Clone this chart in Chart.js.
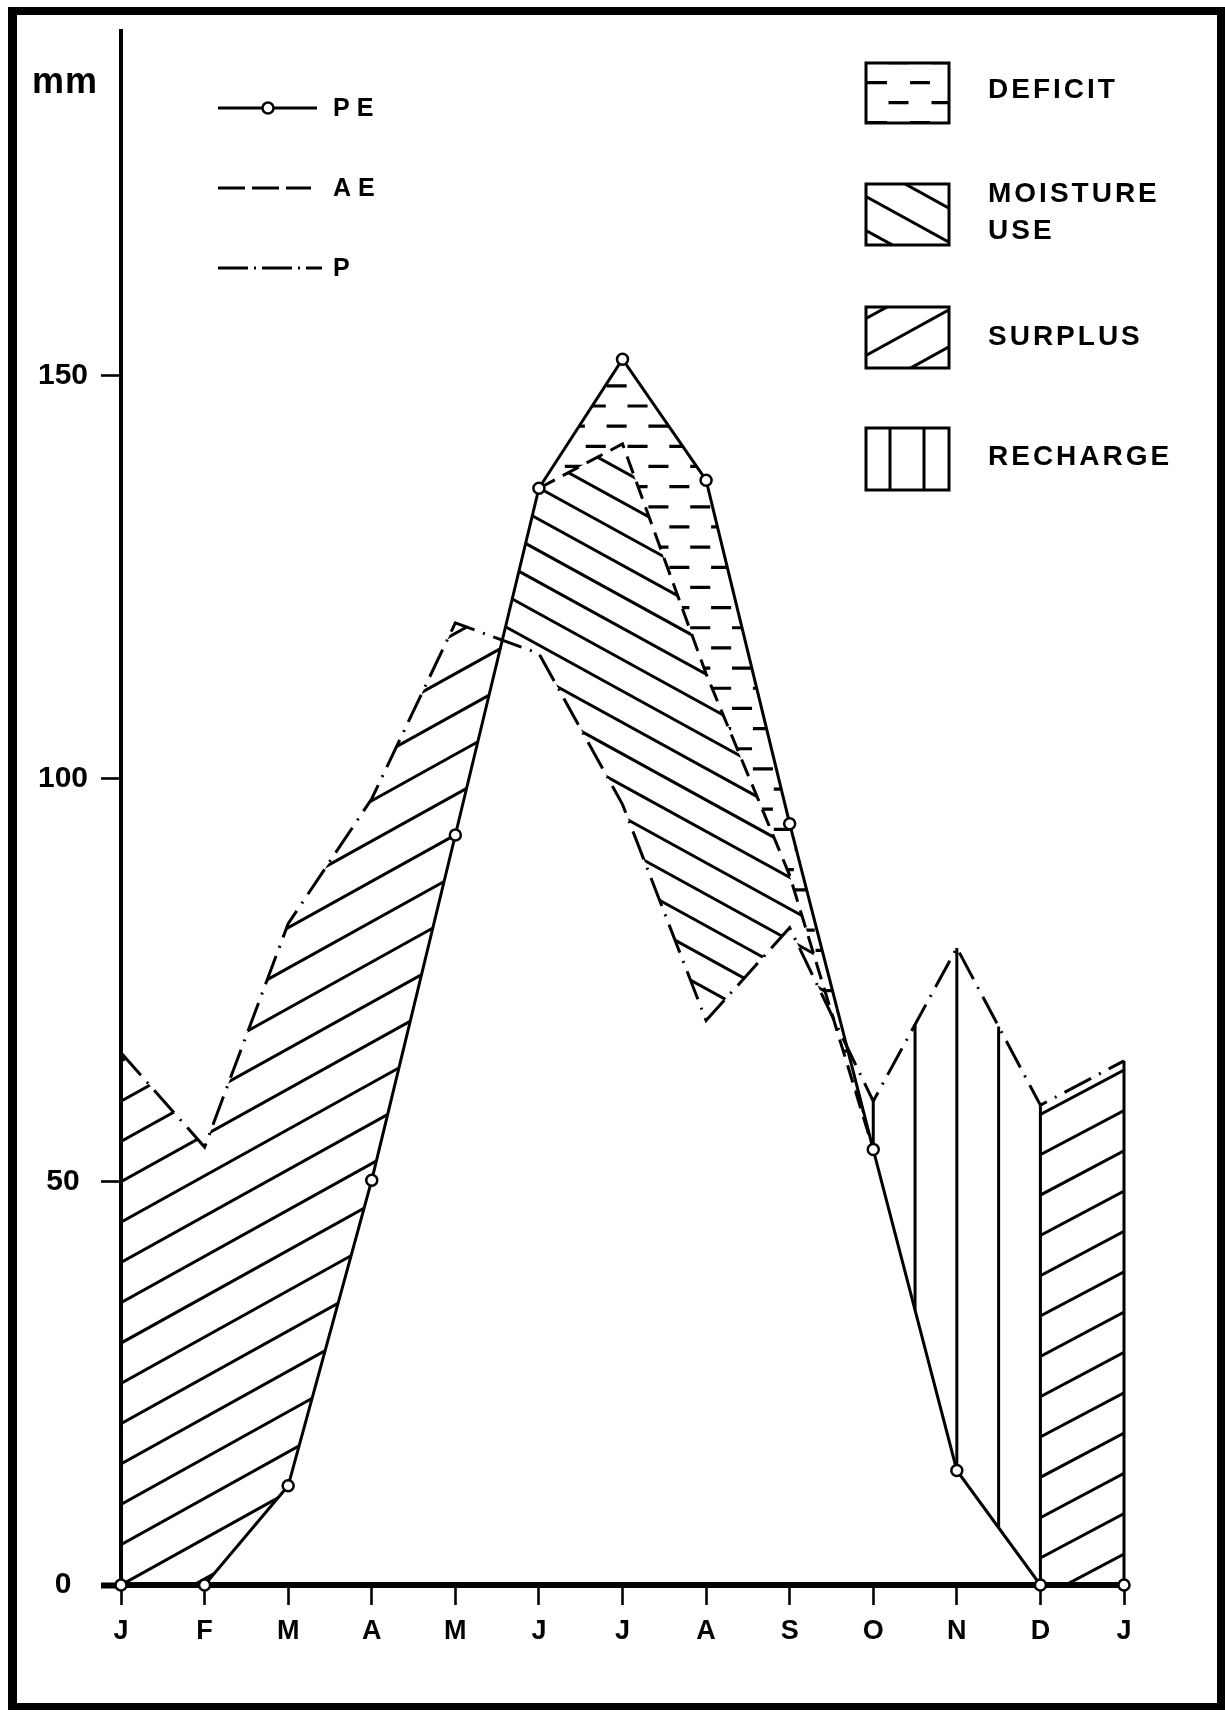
<!DOCTYPE html>
<html>
<head>
<meta charset="utf-8">
<title>Water balance</title>
<script src="https://cdn.jsdelivr.net/npm/chart.js@4.4.1/dist/chart.umd.min.js"></script>
<style>
  html, body { margin: 0; padding: 0; background: #fff; }
  canvas { display: block; }
</style>
</head>
<body>
<canvas id="wb" width="1225" height="1712"></canvas>
<script>
// Monthly water balance (mm), January to the following January
const months = ['J', 'F', 'M', 'A', 'M', 'J', 'J', 'A', 'S', 'O', 'N', 'D', 'J'];
const potentialEvap = [0, 0, 12.3, 50.2, 93, 136, 152, 137, 94.4, 54, 14.2, 0, 0];
const actualEvap = [null, null, null, null, null, 136, 141.5, 113, 88, 54, null, null, null];
const precipitation = [66, 54.3, 82, 97.5, 119.3, 115.5, 96.8, 70, 81.5, 60, 79, 59.5, 65];
const yTicks = [0, 50, 100, 150];
const zoneLabels = [['DEFICIT'], ['MOISTURE', 'USE'], ['SURPLUS'], ['RECHARGE']];

const FONT = '"Liberation Sans", Arial, sans-serif';
const LW = 3;

// AE equals PE outside the drying season
const aeFull = actualEvap.map((v, i) => (v === null ? potentialEvap[i] : v));

function valAt(arr, x) {
  const i = Math.max(0, Math.min(Math.floor(x), arr.length - 2));
  const t = x - i;
  return arr[i] * (1 - t) + arr[i + 1] * t;
}
// x where series a and b cross inside segment [i, i+1]
function crossing(a, b, i) {
  const d0 = a[i] - b[i], d1 = a[i + 1] - b[i + 1];
  return i + d0 / (d0 - d1);
}
// polygon between an upper and a lower series over [x0, x1]
function band(upper, lower, x0, x1) {
  const pts = [[x0, valAt(upper, x0)]];
  for (let i = Math.ceil(x0); i <= Math.floor(x1); i++) if (i > x0 && i < x1) pts.push([i, upper[i]]);
  pts.push([x1, valAt(upper, x1)]);
  pts.push([x1, valAt(lower, x1)]);
  for (let i = Math.floor(x1); i >= Math.ceil(x0); i--) if (i > x0 && i < x1) pts.push([i, lower[i]]);
  pts.push([x0, valAt(lower, x0)]);
  return pts;
}

function toPx(chart, pts) {
  const xs = chart.scales.x, ys = chart.scales.y;
  return pts.map(([x, y]) => [xs.getPixelForValue(x), ys.getPixelForValue(y)]);
}
function bbox(px) {
  const xsArr = px.map(p => p[0]), ysArr = px.map(p => p[1]);
  return { l: Math.min(...xsArr), r: Math.max(...xsArr), t: Math.min(...ysArr), b: Math.max(...ysArr) };
}
function clipTo(ctx, px) {
  ctx.beginPath();
  px.forEach(([x, y], k) => (k ? ctx.lineTo(x, y) : ctx.moveTo(x, y)));
  ctx.closePath();
  ctx.clip();
}
// parallel lines y = ay + k*gap + slope*(x - ax)
function diagonals(ctx, box, ax, ay, slope, gap) {
  const yl = slope * (box.l - ax), yr = slope * (box.r - ax);
  const kmin = Math.floor((box.t - ay - Math.max(yl, yr)) / gap) - 1;
  const kmax = Math.ceil((box.b - ay - Math.min(yl, yr)) / gap) + 1;
  ctx.beginPath();
  for (let k = kmin; k <= kmax; k++) {
    ctx.moveTo(box.l, ay + k * gap + yl);
    ctx.lineTo(box.r, ay + k * gap + yr);
  }
  ctx.stroke();
}
// staggered rows of short dashes
function dashRows(ctx, box, ax, ay, rowGap, dash, period) {
  const k0 = Math.floor((box.t - ay) / rowGap) - 1, k1 = Math.ceil((box.b - ay) / rowGap) + 1;
  ctx.beginPath();
  for (let k = k0; k <= k1; k++) {
    const y = ay + k * rowGap;
    const shift = (((k % 2) + 2) % 2) * period / 2;
    let x = ax + shift + Math.floor((box.l - ax - shift) / period - 1) * period;
    for (; x < box.r; x += period) { ctx.moveTo(x, y); ctx.lineTo(x + dash, y); }
  }
  ctx.stroke();
}

const waterBalance = {
  id: 'waterBalance',
  beforeDraw(chart) {
    const ctx = chart.ctx;
    ctx.save();
    ctx.fillStyle = '#fff';
    ctx.fillRect(0, 0, chart.width, chart.height);
    ctx.restore();
  },
  beforeDatasetsDraw(chart) {
    const ctx = chart.ctx;
    const xs = chart.scales.x, ys = chart.scales.y;
    const X = v => xs.getPixelForValue(v), Y = v => ys.getPixelForValue(v);
    const mm = v => Y(0) - Y(v);        // mm expressed as pixels
    const mo = v => X(v) - X(0);        // months expressed as pixels

    const springCross = crossing(precipitation, potentialEvap, 4);
    const autumnCross = crossing(aeFull, precipitation, 8);

    ctx.save();
    ctx.strokeStyle = '#000';
    ctx.lineCap = 'butt';

    // surplus, winter and spring
    let px = toPx(chart, band(precipitation, potentialEvap, 0, springCross));
    ctx.save(); clipTo(ctx, px); ctx.lineWidth = LW;
    diagonals(ctx, bbox(px), X(0), Y(0), -0.555, mm(5));
    ctx.restore();

    // surplus, December
    px = toPx(chart, band(precipitation, potentialEvap, 11, 12));
    ctx.save(); clipTo(ctx, px); ctx.lineWidth = LW;
    diagonals(ctx, bbox(px), X(11.3), Y(0), -0.53, mm(5));
    ctx.restore();

    // soil moisture utilisation
    px = toPx(chart, band(aeFull, precipitation, springCross, autumnCross));
    ctx.save(); clipTo(ctx, px); ctx.lineWidth = LW;
    diagonals(ctx, bbox(px), X(5.85), Y(100), 0.55, mm(3.9));
    ctx.restore();

    // deficit
    px = toPx(chart, band(potentialEvap, aeFull, 5, 9));
    ctx.save(); clipTo(ctx, px); ctx.lineWidth = 3.2;
    dashRows(ctx, bbox(px), X(5.81), Y(148.7), mm(2.5), mo(0.24), mo(0.5));
    ctx.restore();

    // recharge: vertical rules every half month
    ctx.lineWidth = LW;
    ctx.beginPath();
    for (let m = 9; m <= 11.001; m += 0.5) {
      ctx.moveTo(X(m), Y(valAt(precipitation, m)));
      ctx.lineTo(X(m), Y(valAt(potentialEvap, m)));
    }
    // closing edge of the December surplus
    ctx.moveTo(X(12), Y(precipitation[12]));
    ctx.lineTo(X(12), Y(potentialEvap[12]));
    ctx.stroke();
    ctx.restore();
  },
  afterDraw(chart) {
    const ctx = chart.ctx;
    ctx.save();
    ctx.fillStyle = '#000';
    ctx.strokeStyle = '#000';

    // unit
    ctx.font = 'bold 36px ' + FONT;
    ctx.textBaseline = 'middle';
    ctx.textAlign = 'left';
    ctx.letterSpacing = '1px';
    ctx.fillText('mm', 32, 83);

    // line legend
    const ds = chart.data.datasets;
    const rows = [108, 188, 268];
    ctx.lineWidth = LW;
    ctx.beginPath(); ctx.moveTo(218, rows[0]); ctx.lineTo(317, rows[0]); ctx.stroke();
    ctx.beginPath(); ctx.arc(268, rows[0], 5.5, 0, Math.PI * 2);
    ctx.fillStyle = '#fff'; ctx.fill(); ctx.lineWidth = 2.5; ctx.stroke();
    ctx.fillStyle = '#000';
    ctx.lineWidth = LW;
    ctx.setLineDash([27, 7]);
    ctx.beginPath(); ctx.moveTo(218, rows[1]); ctx.lineTo(311, rows[1]); ctx.stroke();
    ctx.setLineDash([30, 6, 2, 6]);
    ctx.beginPath(); ctx.moveTo(218, rows[2]); ctx.lineTo(322, rows[2]); ctx.stroke();
    ctx.setLineDash([]);
    ctx.font = 'bold 25px ' + FONT;
    ctx.letterSpacing = '7px';
    ds.forEach((d, i) => ctx.fillText(d.label, 333, rows[i] + 1));

    // zone legend
    const boxes = [
      { t: 63, b: 123 }, { t: 184, b: 245 }, { t: 307, b: 368 }, { t: 428, b: 490 }
    ];
    const bl = 866, br = 949;
    boxes.forEach((bx, i) => {
      const box = { l: bl, r: br, t: bx.t, b: bx.b };
      ctx.save();
      ctx.beginPath(); ctx.rect(bl, bx.t, br - bl, bx.b - bx.t); ctx.clip();
      if (i === 0) { ctx.lineWidth = 3.2; dashRows(ctx, box, 867, 82.7, 20, 20, 43); }
      if (i === 1) { ctx.lineWidth = LW; diagonals(ctx, box, 867, 197, 0.55, 34); }
      if (i === 2) { ctx.lineWidth = LW; diagonals(ctx, box, 867, 355, -0.55, 37); }
      if (i === 3) {
        ctx.lineWidth = LW; ctx.beginPath();
        [890, 924].forEach(x => { ctx.moveTo(x, bx.t); ctx.lineTo(x, bx.b); });
        ctx.stroke();
      }
      ctx.restore();
      ctx.lineWidth = 3;
      ctx.strokeRect(bl, bx.t, br - bl, bx.b - bx.t);
    });
    ctx.font = 'bold 28px ' + FONT;
    ctx.letterSpacing = '3px';
    const textY = [[90], [194], [337], [457]];
    textY[1].push(231);
    zoneLabels.forEach((lines, i) => lines.forEach((s, j) => ctx.fillText(s, 988, textY[i][j])));

    // frame
    ctx.letterSpacing = '0px';
    ctx.fillRect(8, 7, 9, 1703);
    ctx.fillRect(8, 7, 1217, 8);
    ctx.fillRect(1217, 7, 8, 1703);
    ctx.fillRect(8, 1703, 1217, 7);
    ctx.restore();
  }
};

const tickFont = { family: FONT, weight: 'bold' };

new Chart(document.getElementById('wb').getContext('2d'), {
  type: 'line',
  data: {
    datasets: [
      {
        label: 'PE',
        data: potentialEvap.map((y, i) => ({ x: i, y })),
        borderColor: '#000', borderWidth: LW,
        pointRadius: 5.5, pointBorderWidth: 2.5,
        pointBackgroundColor: '#fff', pointBorderColor: '#000',
        tension: 0, fill: false, clip: false
      },
      {
        label: 'AE',
        data: actualEvap.map((y, i) => ({ x: i, y })),
        borderColor: '#000', borderWidth: LW, borderDash: [18, 9],
        pointRadius: 0, spanGaps: false, tension: 0, fill: false, clip: false
      },
      {
        label: 'P',
        data: precipitation.map((y, i) => ({ x: i, y })),
        borderColor: '#000', borderWidth: LW, borderDash: [30, 9, 2, 9],
        pointRadius: 0, tension: 0, fill: false, clip: false
      }
    ]
  },
  options: {
    responsive: false,
    animation: false,
    devicePixelRatio: 1,
    layout: { padding: { left: 0, right: 101, top: 30, bottom: 0 } },
    plugins: { legend: { display: false }, tooltip: { enabled: false } },
    scales: {
      x: {
        type: 'linear', min: 0, max: months.length - 1,
        afterFit: s => { s.height = 127; },
        border: { color: '#000', width: 6 },
        grid: { drawOnChartArea: false, tickLength: 20, tickWidth: 2.6, tickColor: '#000' },
        ticks: {
          stepSize: 1, autoSkip: false, maxRotation: 0, padding: 10, color: '#000',
          font: { ...tickFont, size: 27 },
          callback: v => months[v]
        }
      },
      y: {
        min: 0, max: 192.7,
        afterFit: s => { s.width = 121; },
        afterBuildTicks: s => { s.ticks = yTicks.map(value => ({ value })); },
        border: { color: '#000', width: 4 },
        grid: {
          drawOnChartArea: false, tickLength: 20, tickColor: '#000',
          tickWidth: c => (c.tick && c.tick.value === 0 ? 6 : 2.6)
        },
        ticks: {
          includeBounds: false, crossAlign: 'center', padding: 13, color: '#000',
          font: { ...tickFont, size: 30 }
        }
      }
    }
  },
  plugins: [waterBalance]
});
</script>
</body>
</html>
